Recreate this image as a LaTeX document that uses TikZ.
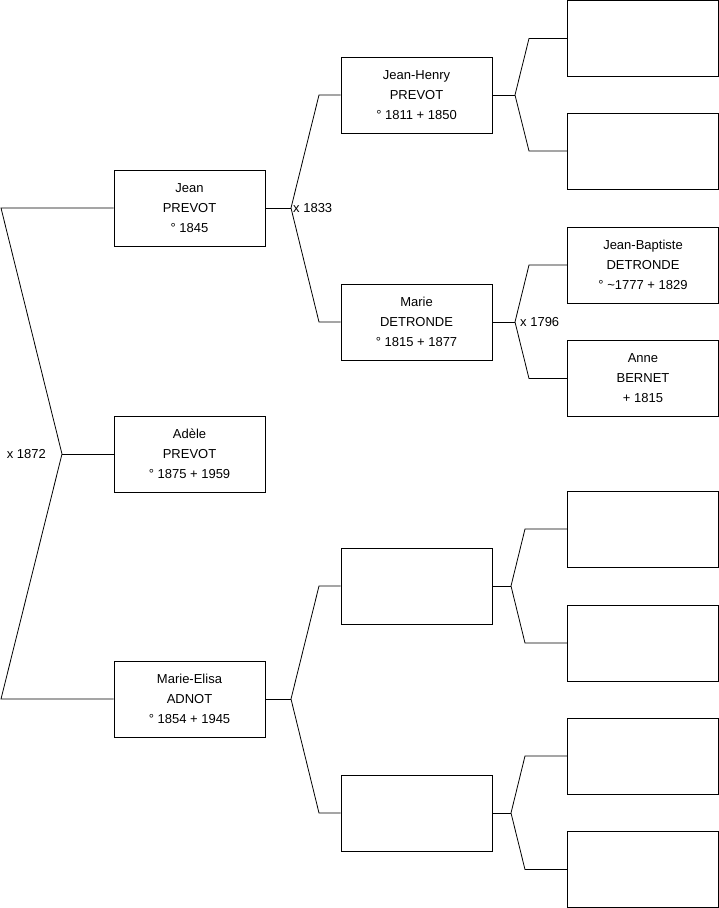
\documentclass[tikz,border=0pt]{standalone}
\usepackage{fontspec}
\setmainfont{Liberation Sans}
\begin{document}
\begin{tikzpicture}[x=1pt,y=-1pt,
  person/.style={draw=black,line width=0.8pt,fill=white,minimum width=151pt,minimum height=76pt,inner sep=0pt,align=center,font=\fontsize{13}{20}\selectfont},
  link/.style={draw=black,line width=0.8pt},
  marr/.style={font=\fontsize{13}{16}\selectfont,inner sep=0pt}]
\useasboundingbox (0,0) rectangle (719,908);
% generation 1
\node[person] (jean) at (189.5,208) {Jean\\PREVOT\\° 1845};
\node[person] (adele) at (189.5,454) {Adèle\\PREVOT\\° 1875 + 1959};
\node[person] (elisa) at (189.5,699) {Marie-Elisa\\ADNOT\\° 1854 + 1945};
% generation 2
\node[person] (jh) at (416.5,95) {Jean-Henry\\PREVOT\\° 1811 + 1850};
\node[person] (marie) at (416.5,322) {Marie\\DETRONDE\\° 1815 + 1877};
\node[person] (e1) at (416.5,586) {};
\node[person] (e2) at (416.5,813) {};
% generation 3
\node[person] (r1) at (643,38.5) {};
\node[person] (r2) at (643,151) {};
\node[person] (r3) at (643,265) {Jean-Baptiste\\DETRONDE\\° \textasciitilde 1777 + 1829};
\node[person] (r4) at (643,378.5) {Anne\\BERNET\\+ 1815};
\node[person] (r5) at (643,529) {};
\node[person] (r6) at (643,643) {};
\node[person] (r7) at (643,756) {};
\node[person] (r8) at (643,869.5) {};
% junction coordinates
\coordinate (l1) at (1,208);
\coordinate (j0) at (62,454);
\coordinate (l2) at (1,699);
\coordinate (ja) at (291,208);
\coordinate (ja1) at (319,95);
\coordinate (ja2) at (319,322);
\coordinate (jb) at (291,699);
\coordinate (jb1) at (319,586);
\coordinate (jb2) at (319,813);
\coordinate (jc) at (515,95);
\coordinate (jc1) at (529,38.5);
\coordinate (jc2) at (529,151);
\coordinate (jd) at (515,322);
\coordinate (jd1) at (529,265);
\coordinate (jd2) at (529,378.5);
\coordinate (je) at (511,586);
\coordinate (je1) at (525,529);
\coordinate (je2) at (525,643);
\coordinate (jf) at (511,813);
\coordinate (jf1) at (525,756);
\coordinate (jf2) at (525,869.5);
% connectors
\draw[link] (jean.west) -- (l1) -- (j0) -- (l2) -- (elisa.west);
\draw[link] (j0) -- (adele.west);
\draw[link] (jean.east) -- (ja);
\draw[link] (jh.west) -- (ja1) -- (ja) -- (ja2) -- (marie.west);
\draw[link] (elisa.east) -- (jb);
\draw[link] (e1.west) -- (jb1) -- (jb) -- (jb2) -- (e2.west);
\draw[link] (jh.east) -- (jc);
\draw[link] (r1.west) -- (jc1) -- (jc) -- (jc2) -- (r2.west);
\draw[link] (marie.east) -- (jd);
\draw[link] (r3.west) -- (jd1) -- (jd) -- (jd2) -- (r4.west);
\draw[link] (e1.east) -- (je);
\draw[link] (r5.west) -- (je1) -- (je) -- (je2) -- (r6.west);
\draw[link] (e2.east) -- (jf);
\draw[link] (r7.west) -- (jf1) -- (jf) -- (jf2) -- (r8.west);
% marriage labels
\node[marr,anchor=east] (m1872) at ([xshift=-16pt]j0) {x 1872};
\node[marr,anchor=west] (m1833) at ([xshift=2pt]ja) {x 1833};
\node[marr,anchor=west] (m1796) at ([xshift=5pt]jd) {x 1796};
\end{tikzpicture}
\end{document}
